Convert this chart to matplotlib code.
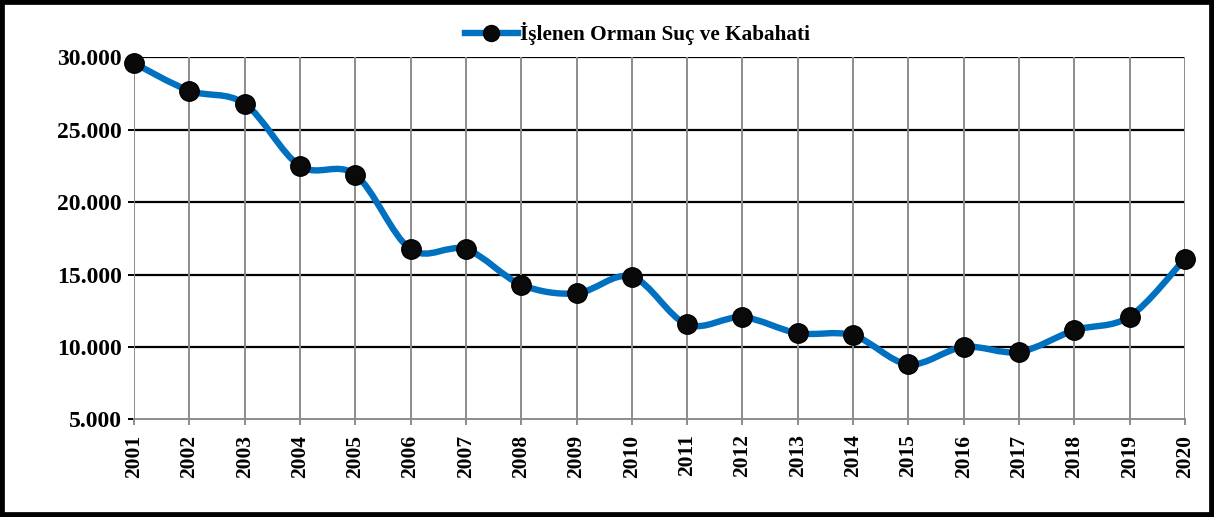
import numpy as np
import matplotlib.pyplot as plt
from matplotlib.path import Path
from matplotlib.patches import PathPatch, Rectangle
from matplotlib.lines import Line2D
from matplotlib.ticker import FuncFormatter

#data
years = list(range(2001, 2021))
values = [29600, 27700, 26800, 22500, 21900, 16750, 16750, 14300, 13700, 14850,
          11550, 12050, 10950, 10800, 8800, 10000, 9650, 11150, 12100, 16100]
series_name = "İşlenen Orman Suç ve Kabahati"
y_ticks = [5000, 10000, 15000, 20000, 25000, 30000]

plt.rcParams['font.family'] = ['Liberation Serif', 'DejaVu Serif']
plt.rcParams['font.weight'] = 'bold'

blue = '#0070C0'


#builds excel-like smoothed path (catmull-rom as cubic bezier)
def smooth_path(x, y):
    pts = np.column_stack([x, y]).astype(float)
    n = len(pts)
    verts = [pts[0]]
    codes = [Path.MOVETO]
    for i in range(n - 1):
        p0 = pts[max(i - 1, 0)]
        p1 = pts[i]
        p2 = pts[i + 1]
        p3 = pts[min(i + 2, n - 1)]
        c1 = p1 + (p2 - p0) / 6.0
        c2 = p2 - (p3 - p1) / 6.0
        verts += [c1, c2, p2]
        codes += [Path.CURVE4] * 3
    return Path(verts, codes)


fig = plt.figure(figsize=(12.14, 5.17), dpi=100)
ax = fig.add_axes([0.1104, 0.189, 0.8657, 0.7])

#grid
for yv in y_ticks[1:]:
    ax.axhline(yv, color='black', lw=1.6, zorder=1)
for xv in years:
    ax.axvline(xv, color='#8c8c8c', lw=1.4, zorder=1)

patch = PathPatch(smooth_path(years, values), facecolor='none', edgecolor=blue,
                  lw=4.6, capstyle='round', joinstyle='round', zorder=3)
ax.add_patch(patch)
ax.plot(years, values, linestyle='none', marker='o', markersize=14,
        markerfacecolor='#0a0a0a', markeredgecolor='black', zorder=4, clip_on=False)

ax.set_xlim(2001, 2020)
ax.set_ylim(5000, 30000)
ax.set_xticks(years)
ax.set_xticklabels([str(y) for y in years], rotation=90)
ax.set_yticks(y_ticks)
ax.yaxis.set_major_formatter(FuncFormatter(lambda v, p: f"{int(v):,}".replace(",", ".")))

for s in ['top', 'right', 'left']:
    ax.spines[s].set_visible(False)
ax.spines['bottom'].set_color('#8c8c8c')
ax.spines['bottom'].set_linewidth(1.4)

ax.tick_params(axis='x', length=4, width=1.4, color='#8c8c8c', pad=7, labelsize=15.5)
ax.tick_params(axis='y', length=4, width=1.4, color='black', pad=5, labelsize=17)
for lbl in ax.get_xticklabels() + ax.get_yticklabels():
    lbl.set_fontweight('bold')

handle = Line2D([], [], color=blue, lw=4.6, marker='o', markersize=11.5,
                markerfacecolor='#0a0a0a', markeredgecolor='black')
fig.legend([handle], [series_name], loc='center', bbox_to_anchor=(0.525, 0.935),
           frameon=False, prop={'weight': 'bold', 'size': 15.3},
           handlelength=2.5, handletextpad=0.1)

#outer frame
fig.patches.append(Rectangle((0, 0), 1, 1, transform=fig.transFigure, fill=False,
                             ec='black', lw=7))

fig.savefig('out.png', dpi=100)
